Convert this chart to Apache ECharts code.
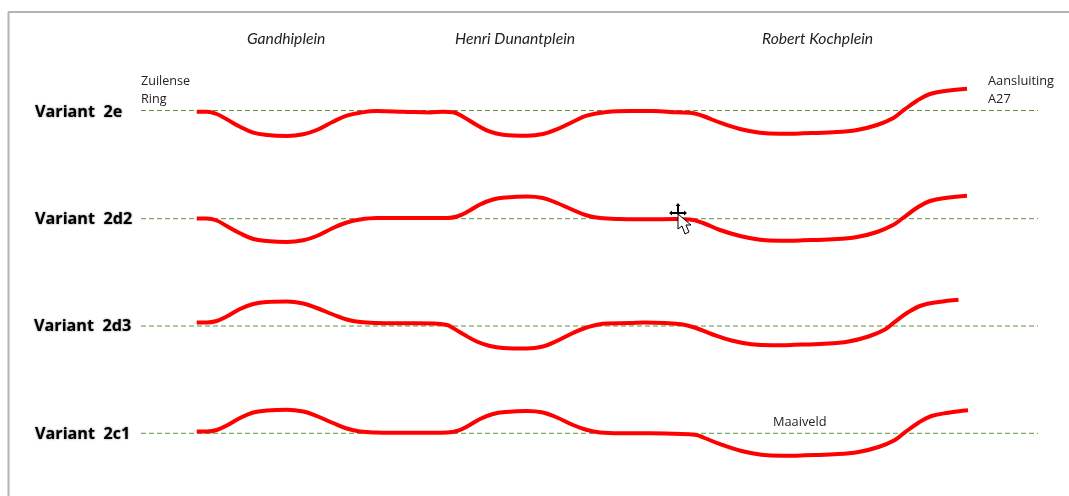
<!DOCTYPE html>
<html><head><meta charset="utf-8">
<style>html,body{margin:0;padding:0;background:#fff}#c{width:1069px;height:496px}</style>
<script src="https://cdn.jsdelivr.net/npm/echarts@6/dist/echarts.min.js"></script>
</head><body><div id="c"></div>
<script>
const variantNames = ['Variant  2e','Variant  2d2','Variant  2d3','Variant  2c1'];
const placeNames = ['Gandhiplein','Henri Dunantplein','Robert Kochplein'];
const maaiveldLevels = [110.5,218.7,326,433.3];
const maaiveldExtent = [141,1038];
const profile2e = [[196.7,111.7],[206.7,111.7],[216.7,114],[226.7,119.3],[240,126.7],[253.3,132.7],[266.7,135],[286.7,136],[303.3,134.3],[316.7,130],[333,121.7],[346.7,115.7],[360,112.7],[376.7,111],[403,111.7],[430,112.5],[443,111.7],[453,112.3],[463,116.7],[476.7,125],[490,131.7],[503,134.7],[526.7,135.7],[543,134],[556.7,129.3],[573,121.7],[586.7,115.7],[606.7,112],[630,111],[653,111],[676.7,112.3],[690,112.7],[703,116],[720,122.7],[740,129],[760,132.7],[780,133.7],[803,133.3],[833,132.3],[857,130],[877,125],[893,118.3],[903,110.7],[917,100.7],[930,94],[947,90.7],[967,88.7]];
const profile2d2 = [[196.7,218.5],[206.7,218.5],[216.7,220.5],[226.7,226],[240,233.3],[253.3,239],[266.7,241],[286.7,242],[303.3,240.3],[316.7,236],[333,228],[346.7,222.5],[360,219.5],[376.7,218],[403,218],[434,218],[447,218],[457,216.5],[467,212],[480,204.5],[493,199.5],[506,197.5],[527,196.5],[543,198],[557,203],[573,210],[587,215.5],[600,218],[620,219],[650,219.3],[675,219],[690,219.5],[703,223],[720,230],[740,236],[760,239.7],[780,240.7],[803,240.3],[833,239.3],[857,237],[877,232],[893,225],[903,218],[917,207.7],[930,201],[947,197.7],[967,195.7]];
const profile2d3 = [[196.7,322.5],[206.7,322.5],[216.7,321],[226.7,316.5],[240,309],[253.3,304],[266.7,302],[286.7,301.5],[303.3,303.5],[316.7,308],[333,314.5],[346.7,319.5],[360,322],[376.7,323],[403,323.3],[434,323.5],[447,325],[453,328],[463,334],[476.7,341.5],[490,346],[503,348],[526.7,348.5],[543,346.5],[556.7,341],[573,333],[586.7,327.5],[606.7,323.5],[630,323],[645,322.5],[665,323],[681.5,324.2],[694.5,327.5],[711.5,334],[731.5,340.5],[751.5,344.2],[771.5,345.2],[794.5,344.8],[824.5,343.8],[848.5,341.5],[868.5,336.5],[884.5,329.8],[894.5,322.2],[908.5,312],[921.5,305.5],[938.5,302],[958.5,299.7]];
const profile2c1 = [[196.7,431.5],[206.7,431.5],[216.7,430],[226.7,425.5],[240,418],[253.3,412.5],[266.7,410.5],[286.7,409.7],[303.3,411.5],[316.7,416],[333,423],[346.7,428.5],[360,431.5],[376.7,432.5],[403,432.8],[434,432.8],[447,432.5],[457,431],[467,426.5],[480,419],[493,414],[506,412],[527,411],[543,412.5],[557,417.5],[573,425],[587,430],[600,432.5],[620,433.3],[650,433.3],[675,433.8],[695,434.7],[704.5,438],[721.5,444.7],[741.5,451],[761.5,454.7],[781.5,455.7],[804.5,455.3],[834.5,454.3],[858.5,452],[878.5,447],[894.5,440.3],[904.5,432.7],[918.5,422.7],[931.5,416],[948.5,412.7],[968,410.3]];
const profiles = [profile2e,profile2d2,profile2d3,profile2c1];

const labelFont = 'Lato';
const noteFont = '"Open Sans"';
function text(x,y,str,style){
  return {type:'text',x:x,y:y,z:20,style:Object.assign({text:str,fill:'#222',textAlign:'left',textVerticalAlign:'middle'},style)};
}
const graphics = [
  {type:'line',z:30,shape:{x1:8.5,y1:12,x2:8.5,y2:496},style:{stroke:'#b4b4b4',lineWidth:2}},
  {type:'line',z:30,shape:{x1:8,y1:12,x2:1069,y2:12},style:{stroke:'#b4b4b4',lineWidth:2}}
];
const nameX = [35,35,34,35], nameY = [112,219,326,434];
variantNames.forEach((n,i)=>graphics.push(text(nameX[i],nameY[i],n,{font:'bold 16.2px '+noteFont,fill:'#000',textShadowColor:'rgba(0,0,0,0.55)',textShadowBlur:2})));
const placeX = [247,455,762];
placeNames.forEach((n,i)=>graphics.push(text(placeX[i],38.5,n,{font:'italic 15.7px '+labelFont,fill:'#222'})));
graphics.push(text(141,81,'Zuilense',{font:'12.6px '+noteFont}));
graphics.push(text(141,99,'Ring',{font:'12.6px '+noteFont}));
graphics.push(text(988,81,'Aansluiting',{font:'12.8px '+noteFont}));
graphics.push(text(988,99,'A27',{font:'12.8px '+noteFont}));
graphics.push(text(773,422,'Maaiveld',{font:'12.8px '+noteFont}));
// mouse cursor captured in the screenshot
graphics.push({type:'polygon',z:40,shape:{points:[[678,214],[678,229],[682,226],[685,234],[689,232],[686,225],[691,225]]},style:{fill:'#fff',stroke:'#000',lineWidth:1}});
graphics.push({type:'polygon',z:41,shape:{points:[[678,203],[680.5,206],[679,206],[679,212],[684,212],[684,210.5],[687,213],[684,215.5],[684,214],[672,214],[672,215.5],[669,213],[672,210.5],[672,212],[677,212],[677,206],[675.5,206]]},style:{fill:'#000'}});

const series = [];
maaiveldLevels.forEach((lv,i)=>series.push({
  type:'line',name:'Maaiveld '+variantNames[i],symbol:'none',silent:true,z:1,
  data:maaiveldExtent.map(x=>[x,lv]),
  lineStyle:{color:'#5f9140',width:1,type:[5,3]}
}));
profiles.forEach((p,i)=>series.push({
  type:'line',name:variantNames[i],symbol:'none',smooth:0.4,z:5,silent:true,
  data:p,lineStyle:{color:'#ff0000',width:4,cap:'butt',join:'round'}
}));

const chart = echarts.init(document.getElementById('c'),null,{renderer:'canvas'});
chart.setOption({
  animation:false,backgroundColor:'#fff',
  grid:{left:0,right:0,top:0,bottom:0,containLabel:false},
  xAxis:{type:'value',min:0,max:1069,show:false},
  yAxis:{type:'value',min:0,max:496,inverse:true,show:false},
  legend:{show:false},tooltip:{show:false},
  series:series,graphic:graphics
});
</script></body></html>
